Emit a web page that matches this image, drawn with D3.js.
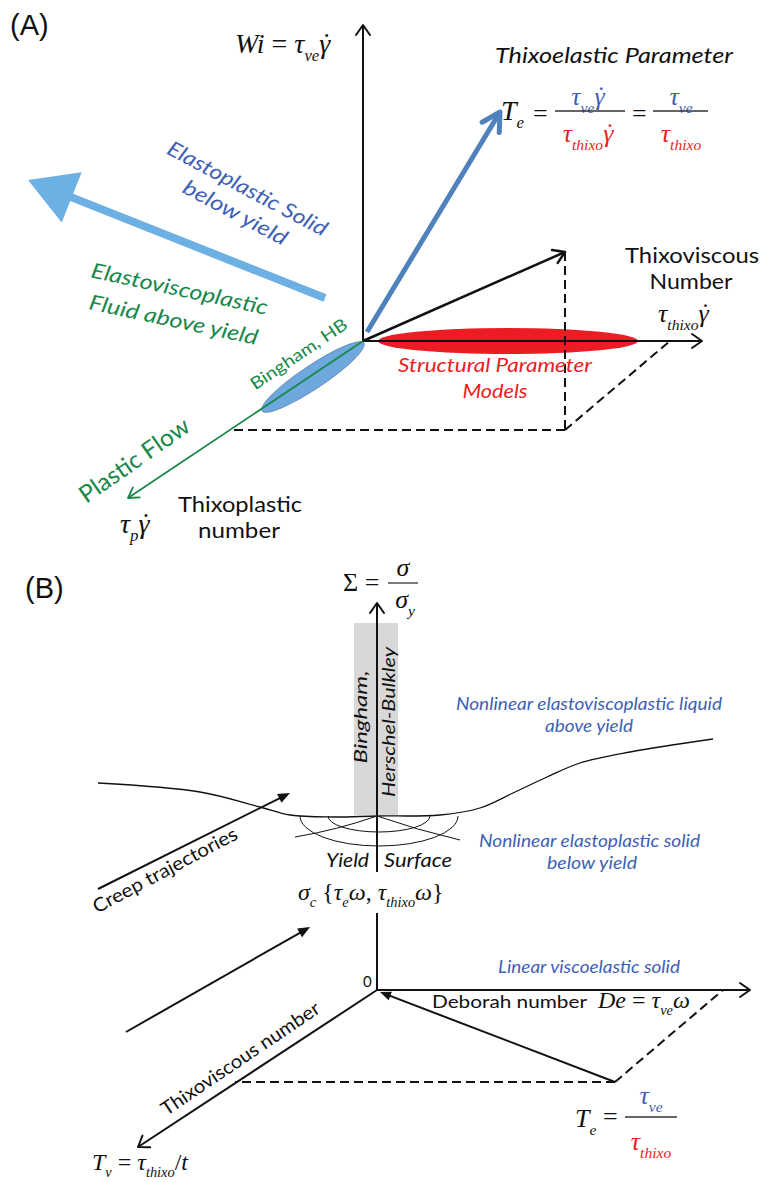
<!DOCTYPE html>
<html>
<head>
<meta charset="utf-8">
<script src="https://cdn.jsdelivr.net/npm/d3@7"></script>
<style>
  body { margin: 0; background: #fff; }
</style>
</head>
<body>
<div id="chart"></div>
<script>
var INK = "#111", GREEN = "#17884a", BLUE = "#3e5fb5", STEEL = "#4f81bd",
    SKY = "#6db0e3", RED = "#ec1c24", GREY = "#d8d8d8";
var SANS = "Lato, 'Open Sans', sans-serif",
    SERIF = "'Liberation Serif', 'DejaVu Serif', serif",
    ARIAL = "'Liberation Sans', Arial, sans-serif";

// ---------- panel A : diagram units (10 px), origin at the axis crossing, y up
var arrowsA = [
  {from: [0, 0],      to: [0, 31.6],      color: INK,   w: 2,   head: 10, hw: 7},
  {from: [0, 0],      to: [33.9, 0],      color: INK,   w: 2,   head: 10, hw: 7},
  {from: [0, 0],      to: [-23.5, -15.7], color: GREEN, w: 1.8, head: 10, hw: 6},
  {from: [0, 0],      to: [20.2, 8.9],    color: INK,   w: 2.5, head: 11, hw: 7},
  {from: [0.4, 0.9],  to: [13.7, 22.9],   color: STEEL, w: 5,   head: 18, hw: 10},
  {from: [-3.8, 4.3], to: [-33.5, 16.1],  color: SKY,   w: 8,   head: 47, hw: 27, fill: true}
];
var dashesA = [
  [[20.2, 8.9], [20.2, -8.9]],
  [[20.2, -8.9], [-13.1, -8.9]],
  [[20.2, -8.9], [30.7, 0]]
];
var structEllipse = {cx: 14.5, cy: 0, rx: 13, ry: 1.3};
var binghamEllipse = {cx: -5.0, cy: -3.6, rx: 6.1, ry: 1.15};

var labelsA = [
  {t: "(A)", x: -35.3, y: 30.6, size: 29, font: ARIAL},
  {t: "Thixoelastic Parameter", x: 13.2, y: 27.8, size: 22, it: 1, len: 238},
  {t: "Thixoviscous", x: 26.2, y: 7.8, size: 22, len: 134},
  {t: "Number", x: 32.8, y: 5.2, size: 22, anchor: "middle", len: 83},
  {t: "Structural Parameter", x: 13.2, y: -3.1, size: 20, it: 1, c: RED, anchor: "middle", len: 194},
  {t: "Models", x: 13.2, y: -5.7, size: 20, it: 1, c: RED, anchor: "middle", len: 65},
  {t: "Thixoplastic", x: -18.5, y: -17.1, size: 21, len: 124},
  {t: "number", x: -12.4, y: -19.7, size: 21, anchor: "middle", len: 82},
  {t: "Elastoplastic Solid", x: -11.9, y: 14.6, size: 21, it: 1, c: BLUE, anchor: "middle", rot: 28, len: 178},
  {t: "below yield", x: -13.1, y: 12.2, size: 21, it: 1, c: BLUE, anchor: "middle", rot: 28, len: 115},
  {t: "Elastoviscoplastic", x: -18.5, y: 4.5, size: 21, it: 1, c: GREEN, anchor: "middle", rot: 12, len: 180},
  {t: "Fluid above yield", x: -19.1, y: 1.4, size: 21, it: 1, c: GREEN, anchor: "middle", rot: 12, len: 172},
  {t: "Bingham, HB", x: -6.1, y: -1.8, size: 17, c: GREEN, anchor: "middle", rot: -34, len: 113},
  {t: "Plastic Flow", x: -22.4, y: -12.6, size: 24, c: GREEN, anchor: "middle", rot: -35, len: 129}
];

// math parts: sub = subscript, up = upright, dot = dot above
var mathA = [
  {x: -12.8, y: 28.8, size: 28, parts: [{t: "Wi"}, {t: " = ", up: 1}, {t: "\u03c4"}, {t: "ve", sub: 1}, {t: "\u03b3", dot: 1}]},
  {x: 13.8, y: 22.1, size: 28, parts: [{t: "T"}, {t: "e", sub: 1}]},
  {x: 17.0, y: 21.9, size: 26, parts: [{t: "=", up: 1}]},
  {x: 22.5, y: 23.6, size: 26, anchor: "middle", parts: [{t: "\u03c4", c: BLUE}, {t: "ve", sub: 1, c: BLUE}, {t: "\u03b3", dot: 1, c: BLUE}]},
  {x: 22.5, y: 19.9, size: 26, anchor: "middle", parts: [{t: "\u03c4", c: RED}, {t: "thixo", sub: 1, c: RED}, {t: "\u03b3", dot: 1, c: RED}]},
  {x: 26.9, y: 21.9, size: 26, parts: [{t: "=", up: 1}]},
  {x: 31.8, y: 23.6, size: 26, anchor: "middle", parts: [{t: "\u03c4", c: BLUE}, {t: "ve", sub: 1, c: BLUE}]},
  {x: 31.8, y: 19.9, size: 26, anchor: "middle", parts: [{t: "\u03c4", c: RED}, {t: "thixo", sub: 1, c: RED}]},
  {x: 29.5, y: 1.9, size: 26, parts: [{t: "\u03c4"}, {t: "thixo", sub: 1}, {t: "\u03b3", dot: 1}]},
  {x: -24.3, y: -19.2, size: 28, parts: [{t: "\u03c4"}, {t: "p", sub: 1}, {t: "\u03b3", dot: 1}]}
];
var fracA = [[19.2, 26.2, 23.0], [29.0, 34.5, 23.0]];

// ---------- panel B : same units, origin at the "0" corner
var arrowsB = [
  {from: [0, 0],        to: [0, 7.7],       color: INK, w: 2},
  {from: [0, 11.8],     to: [0, 38.7],      color: INK, w: 2, head: 10, hw: 7},
  {from: [0, 0],        to: [37.3, 0],      color: INK, w: 2, head: 10, hw: 7},
  {from: [0, 0],        to: [-23.9, -15.7], color: INK, w: 2, head: 10, hw: 7},
  {from: [23.8, -9.2],  to: [0.3, -0.2],    color: INK, w: 2, head: 11, hw: 4.5, fill: true},
  {from: [-27.9, 10.1], to: [-8.7, 19.7],   color: INK, w: 2, head: 12, hw: 5, fill: true},
  {from: [-25.1, -4.2], to: [-6.7, 6.3],    color: INK, w: 2, head: 12, hw: 5, fill: true}
];
var dashesB = [
  [[23.8, -9.2], [-14.2, -9.2]],
  [[23.8, -9.2], [34.6, 0]]
];
var greyBand = {x0: -2.3, x1: 2.1, y0: 17.5, y1: 36.7};
var yieldCurve = [[-27.9, 20.7], [-17.7, 19.8], [-11.7, 18.3], [-8.7, 17.5], [-4.4, 17.3], [0, 17.4],
                  [6.3, 17.5], [10.3, 18.2], [13.6, 19.7], [17.0, 21.3], [20.3, 22.7], [25.3, 23.8], [33.6, 25.1]];
var yieldArcs = [{cx: 0.2, cy: 17.4, rx: 7.9, ry: 3.0}, {cx: 0.2, cy: 17.4, rx: 5.1, ry: 1.6}];
var yieldTent = [[[-8.2, 15.3], [-4, 16.0], [0, 17.4]], [[0, 17.4], [4, 16.0], [8.3, 15.0]]];

var labelsB = [
  {t: "(B)", x: -35.2, y: 39.2, size: 29, font: ARIAL},
  {t: "Bingham,", x: -1.0, y: 27.3, size: 17, it: 1, anchor: "middle", rot: -90, len: 93},
  {t: "Herschel-Bulkley", x: 1.8, y: 26.8, size: 17, it: 1, anchor: "middle", rot: -90, len: 150},
  {t: "Nonlinear elastoviscoplastic liquid", x: 7.9, y: 28.0, size: 18, it: 1, c: BLUE, len: 266},
  {t: "above yield", x: 21.2, y: 25.8, size: 18, it: 1, c: BLUE, anchor: "middle", len: 88},
  {t: "Nonlinear elastoplastic solid", x: 10.2, y: 14.3, size: 18, it: 1, c: BLUE, len: 221},
  {t: "below yield", x: 21.5, y: 12.1, size: 18, it: 1, c: BLUE, anchor: "middle", len: 90},
  {t: "Yield", x: -0.8, y: 12.3, size: 20, it: 1, anchor: "end", len: 43},
  {t: "Surface", x: 0.7, y: 12.3, size: 20, it: 1, len: 68},
  {t: "Creep trajectories", x: -20.9, y: 11.4, size: 19, anchor: "middle", rot: -28, len: 161},
  {t: "0", x: -1.4, y: 0.3, size: 15},
  {t: "Linear viscoelastic solid", x: 12.1, y: 1.7, size: 18, it: 1, c: BLUE, len: 182},
  {t: "Deborah number", x: 5.5, y: -1.8, size: 18, len: 155},
  {t: "Thixoviscous number", x: -13.3, y: -7.4, size: 19, anchor: "middle", rot: -34, len: 187}
];

var mathB = [
  {x: -3.4, y: 39.9, size: 26, parts: [{t: "\u03a3 =", up: 1}]},
  {x: 2.6, y: 41.4, size: 26, anchor: "middle", parts: [{t: "\u03c3"}]},
  {x: 2.8, y: 38.2, size: 26, anchor: "middle", parts: [{t: "\u03c3"}, {t: "y", sub: 1}]},
  {x: -7.9, y: 9.0, size: 24, parts: [{t: "\u03c3"}, {t: "c", sub: 1}, {t: " {", up: 1}, {t: "\u03c4"}, {t: "e", sub: 1},
     {t: "\u03c9"}, {t: ", ", up: 1}, {t: "\u03c4"}, {t: "thixo", sub: 1}, {t: "\u03c9"}, {t: "}", up: 1}]},
  {x: 22.1, y: -1.8, size: 24, parts: [{t: "De"}, {t: " = ", up: 1}, {t: "\u03c4"}, {t: "ve", sub: 1}, {t: "\u03c9"}]},
  {x: 19.8, y: -13.7, size: 26, parts: [{t: "T"}, {t: "e", sub: 1}]},
  {x: 22.6, y: -13.5, size: 26, parts: [{t: "=", up: 1}]},
  {x: 27.4, y: -11.4, size: 26, anchor: "middle", parts: [{t: "\u03c4", c: BLUE}, {t: "ve", sub: 1, c: BLUE}]},
  {x: 27.4, y: -16.0, size: 26, anchor: "middle", parts: [{t: "\u03c4", c: RED}, {t: "thixo", sub: 1, c: RED}]},
  {x: -28.5, y: -18.0, size: 24, parts: [{t: "T"}, {t: "v", sub: 1}, {t: " = ", up: 1}, {t: "\u03c4"},
     {t: "thixo", sub: 1}, {t: "/", up: 1}, {t: "t"}]}
];
var fracB = [[1.1, 4.1, 40.7], [24.8, 30.0, -12.7]];

// ---------- drawing
var svg = d3.select("#chart").append("svg").attr("width", 761).attr("height", 1182);

var xA = d3.scaleLinear().domain([0, 10]).range([363, 463]);
var yA = d3.scaleLinear().domain([0, 10]).range([341, 241]);
var xB = d3.scaleLinear().domain([0, 10]).range([377, 477]);
var yB = d3.scaleLinear().domain([0, 10]).range([990, 890]);

function drawArrow(g, sx, sy, d) {
  var x1 = sx(d.from[0]), y1 = sy(d.from[1]), x2 = sx(d.to[0]), y2 = sy(d.to[1]);
  var a = Math.atan2(y2 - y1, x2 - x1), c = Math.cos(a), s = Math.sin(a);
  var cut = d.fill ? d.head * 0.8 : 0;
  g.append("line")
    .attr("x1", x1).attr("y1", y1).attr("x2", x2 - cut * c).attr("y2", y2 - cut * s)
    .attr("stroke", d.color).attr("stroke-width", d.w);
  if (!d.head) return;
  var bx = x2 - d.head * c, by = y2 - d.head * s;
  var pts = [[bx - s * d.hw, by + c * d.hw], [x2, y2], [bx + s * d.hw, by - c * d.hw]];
  if (d.fill) {
    g.append("path").attr("d", "M" + pts.join("L") + "Z").attr("fill", d.color);
  } else {
    g.append("path").attr("d", "M" + pts.join("L")).attr("fill", "none")
      .attr("stroke", d.color).attr("stroke-width", d.w).attr("stroke-linejoin", "round")
      .attr("stroke-linecap", "round");
  }
}

function drawDashes(g, sx, sy, list) {
  list.forEach(function (p) {
    g.append("line")
      .attr("x1", sx(p[0][0])).attr("y1", sy(p[0][1])).attr("x2", sx(p[1][0])).attr("y2", sy(p[1][1]))
      .attr("stroke", INK).attr("stroke-width", 2).attr("stroke-dasharray", "9,5");
  });
}

function drawLabels(g, sx, sy, list) {
  list.forEach(function (d) {
    var t = g.append("text")
      .attr("transform", "translate(" + sx(d.x) + "," + sy(d.y) + ")" + (d.rot ? " rotate(" + d.rot + ")" : ""))
      .attr("font-family", d.font || SANS).attr("font-size", d.size)
      .attr("font-style", d.it ? "italic" : "normal")
      .attr("fill", d.c || INK).attr("text-anchor", d.anchor || "start")
      .text(d.t);
    if (d.len) t.attr("textLength", d.len).attr("lengthAdjust", "spacingAndGlyphs");
  });
}

function drawMath(g, sx, sy, list) {
  list.forEach(function (d) {
    var t = g.append("text").attr("x", sx(d.x)).attr("y", sy(d.y))
      .attr("font-family", SERIF).attr("font-size", d.size).attr("text-anchor", d.anchor || "start");
    var shift = 0;
    d.parts.forEach(function (p) {
      var drop = p.sub ? d.size * 0.3 : 0;
      t.append("tspan").attr("dy", drop - shift)
        .attr("font-size", p.sub ? d.size * 0.6 : d.size)
        .attr("font-style", p.up ? "normal" : "italic")
        .attr("fill", p.c || INK).text(p.t);
      shift = drop;
      if (p.dot) {
        // dot above, pulled back over the gamma
        t.append("tspan").attr("dx", -d.size * 0.36).attr("dy", -d.size * 0.04)
          .attr("font-size", d.size).attr("font-style", "italic")
          .attr("fill", p.c || INK).text("\u02d9");
        shift = -d.size * 0.04;
      }
    });
  });
}

function drawFracs(g, sx, sy, list) {
  list.forEach(function (f) {
    g.append("line").attr("x1", sx(f[0])).attr("x2", sx(f[1])).attr("y1", sy(f[2])).attr("y2", sy(f[2]))
      .attr("stroke", "#333").attr("stroke-width", 1.3);
  });
}

// panel A
var gA = svg.append("g");
gA.append("ellipse")
  .attr("cx", xA(structEllipse.cx)).attr("cy", yA(structEllipse.cy))
  .attr("rx", xA(structEllipse.rx) - xA(0)).attr("ry", yA(0) - yA(structEllipse.ry))
  .attr("fill", RED);
var pAxis = arrowsA[2];
var bAng = Math.atan2(yA(pAxis.to[1]) - yA(0), xA(pAxis.to[0]) - xA(0)) * 180 / Math.PI;
gA.append("ellipse")
  .attr("transform", "translate(" + xA(binghamEllipse.cx) + "," + yA(binghamEllipse.cy) + ") rotate(" + bAng + ")")
  .attr("rx", xA(binghamEllipse.rx) - xA(0)).attr("ry", yA(0) - yA(binghamEllipse.ry))
  .attr("fill", "#6fa8dc").attr("stroke", "#5d8fc8").attr("stroke-width", 1);
drawDashes(gA, xA, yA, dashesA);
arrowsA.forEach(function (d) { drawArrow(gA, xA, yA, d); });
drawLabels(gA, xA, yA, labelsA);
drawMath(gA, xA, yA, mathA);
drawFracs(gA, xA, yA, fracA);

// panel B
var gB = svg.append("g");
gB.append("rect")
  .attr("x", xB(greyBand.x0)).attr("y", yB(greyBand.y1))
  .attr("width", xB(greyBand.x1) - xB(greyBand.x0)).attr("height", yB(greyBand.y0) - yB(greyBand.y1))
  .attr("fill", GREY);
gB.append("path")
  .attr("d", d3.line().x(function (p) { return xB(p[0]); }).y(function (p) { return yB(p[1]); })
    .curve(d3.curveCatmullRom)(yieldCurve))
  .attr("fill", "none").attr("stroke", INK).attr("stroke-width", 1.3);
yieldArcs.forEach(function (a) {
  var rx = xB(a.rx) - xB(0), ry = yB(0) - yB(a.ry), cx = xB(a.cx), cy = yB(a.cy);
  gB.append("path")
    .attr("d", "M" + (cx - rx) + "," + cy + " A" + rx + "," + ry + " 0 0 0 " + (cx + rx) + "," + cy)
    .attr("fill", "none").attr("stroke", INK).attr("stroke-width", 1);
});
yieldTent.forEach(function (q) {
  gB.append("path")
    .attr("d", "M" + xB(q[0][0]) + "," + yB(q[0][1]) + " Q" + xB(q[1][0]) + "," + yB(q[1][1]) + " " + xB(q[2][0]) + "," + yB(q[2][1]))
    .attr("fill", "none").attr("stroke", INK).attr("stroke-width", 1);
});
drawDashes(gB, xB, yB, dashesB);
arrowsB.forEach(function (d) { drawArrow(gB, xB, yB, d); });
drawLabels(gB, xB, yB, labelsB);
drawMath(gB, xB, yB, mathB);
drawFracs(gB, xB, yB, fracB);
</script>
</body>
</html>
